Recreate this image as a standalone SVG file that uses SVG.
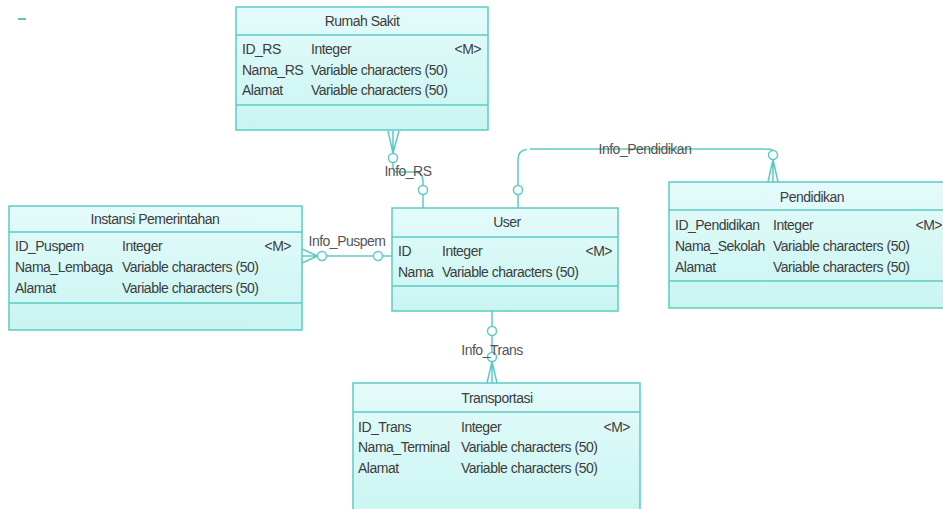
<svg xmlns="http://www.w3.org/2000/svg" width="943" height="509" viewBox="0 0 943 509">
<defs>
<linearGradient id="g" x1="0" y1="0" x2="0" y2="1">
<stop offset="0" stop-color="#e4fbfa"/>
<stop offset="1" stop-color="#c9f5f1"/>
</linearGradient>
<style>
.box{fill:url(#g);stroke:#5ccac4;stroke-width:1.5}
.ln{stroke:#5ccac4;stroke-width:1.5;fill:none}
.c{fill:#ffffff;fill-opacity:0.3;stroke:#5ccac4;stroke-width:1.5}
text{font-family:"Liberation Sans",Arial,sans-serif;font-size:14px;letter-spacing:-0.5px;fill:#3c3c3c}
.t{text-anchor:middle}
.r{text-anchor:end}
.lb{fill:#555555}
</style>
</defs>
<rect width="943" height="509" fill="#ffffff"/>
<line x1="18" y1="19" x2="26" y2="19" stroke="#3aa8a4" stroke-width="1.5"/>

<g id="connectors">
<!-- Info_RS -->
<g id="info_rs">
<path class="ln" d="M388,131 L393,153 M393,131 L393,153 M399,131 L393,153"/>
<circle class="c" cx="393" cy="158" r="4.5"/>
<path class="ln" d="M393,162.5 L393,167 Q393,172 398,172 L414,172 Q423,172 423,181 L423,185.5"/>
<circle class="c" cx="423" cy="190" r="4.5"/>
<path class="ln" d="M423,194.5 L423,208"/>
<text class="lb" x="408" y="176" text-anchor="middle">Info_RS</text>
</g>
<!-- Info_Pendidikan -->
<g id="info_pendidikan">
<path class="ln" d="M518,208 L518,194.5"/>
<circle class="c" cx="518" cy="190" r="4.5"/>
<path class="ln" d="M518,185.5 L518,160 Q518,150 527,149.5 M530,149 L763,149 Q773,149 773,150.5"/>
<circle class="c" cx="773" cy="155" r="4.5"/>
<path class="ln" d="M773,159.5 L768,182 M773,159.5 L773,182 M773,159.5 L778,182"/>
<text class="lb" x="645" y="154" text-anchor="middle">Info_Pendidikan</text>
</g>
<!-- Info_Puspem -->
<g id="info_puspem">
<path class="ln" d="M302,249 L317.5,256 M302,256 L317.5,256 M302,263 L317.5,256"/>
<circle class="c" cx="322" cy="256" r="4.5"/>
<path class="ln" d="M326.5,256 L373.5,256"/>
<circle class="c" cx="378" cy="256" r="4.5"/>
<path class="ln" d="M382.5,256 L392,256"/>
<text class="lb" x="347" y="246" text-anchor="middle">Info_Puspem</text>
</g>
<!-- Info_Trans -->
<g id="info_trans">
<path class="ln" d="M492,311 L492,326.5"/>
<circle class="c" cx="492" cy="331" r="4.5"/>
<path class="ln" d="M492,335.5 L492,352.5"/>
<circle class="c" cx="492" cy="357" r="4.5"/>
<path class="ln" d="M492,361.5 L487,383 M492,361.5 L492,383 M492,361.5 L497,383"/>
<text class="lb" x="492" y="355" text-anchor="middle">Info_Trans</text>
</g>
</g>

<g id="rumah_sakit">
<rect class="box" x="236" y="7" width="252" height="123"/>
<line class="ln" x1="236" y1="35" x2="488" y2="35"/>
<line class="ln" x1="236" y1="105" x2="488" y2="105"/>
<text class="t" x="362" y="26">Rumah Sakit</text>
<text x="242" y="54">ID_RS</text><text x="311" y="54">Integer</text><text class="r" x="481" y="54">&lt;M&gt;</text>
<text x="242" y="75">Nama_RS</text><text x="311" y="75">Variable characters (50)</text>
<text x="242" y="95">Alamat</text><text x="311" y="95">Variable characters (50)</text>
</g>

<g id="instansi_pemerintahan">
<rect class="box" x="9" y="206" width="293" height="124"/>
<line class="ln" x1="9" y1="232" x2="302" y2="232"/>
<line class="ln" x1="9" y1="303" x2="302" y2="303"/>
<text class="t" x="155" y="224">Instansi Pemerintahan</text>
<text x="15" y="251">ID_Puspem</text><text x="122" y="251">Integer</text><text class="r" x="291" y="251">&lt;M&gt;</text>
<text x="15" y="272">Nama_Lembaga</text><text x="122" y="272">Variable characters (50)</text>
<text x="15" y="293">Alamat</text><text x="122" y="293">Variable characters (50)</text>
</g>

<g id="user">
<rect class="box" x="392" y="208" width="226" height="103"/>
<line class="ln" x1="392" y1="237" x2="618" y2="237"/>
<line class="ln" x1="392" y1="286" x2="618" y2="286"/>
<text class="t" x="507" y="227">User</text>
<text x="398" y="256">ID</text><text x="442" y="256">Integer</text><text class="r" x="612" y="256">&lt;M&gt;</text>
<text x="398" y="277">Nama</text><text x="442" y="277">Variable characters (50)</text>
</g>

<g id="pendidikan">
<rect class="box" x="669" y="182" width="276" height="126"/>
<line class="ln" x1="669" y1="210" x2="945" y2="210"/>
<line class="ln" x1="669" y1="281" x2="945" y2="281"/>
<text class="t" x="812" y="202">Pendidikan</text>
<text x="675" y="230">ID_Pendidikan</text><text x="773" y="230">Integer</text><text class="r" x="942" y="230">&lt;M&gt;</text>
<text x="675" y="251">Nama_Sekolah</text><text x="773" y="251">Variable characters (50)</text>
<text x="675" y="272">Alamat</text><text x="773" y="272">Variable characters (50)</text>
</g>

<g id="transportasi">
<rect class="box" x="353" y="383" width="287" height="140"/>
<line class="ln" x1="353" y1="412" x2="640" y2="412"/>
<text class="t" x="497" y="403">Transportasi</text>
<text x="358" y="432">ID_Trans</text><text x="461" y="432">Integer</text><text class="r" x="630" y="432">&lt;M&gt;</text>
<text x="358" y="452">Nama_Terminal</text><text x="461" y="452">Variable characters (50)</text>
<text x="358" y="473">Alamat</text><text x="461" y="473">Variable characters (50)</text>
</g>
</svg>
